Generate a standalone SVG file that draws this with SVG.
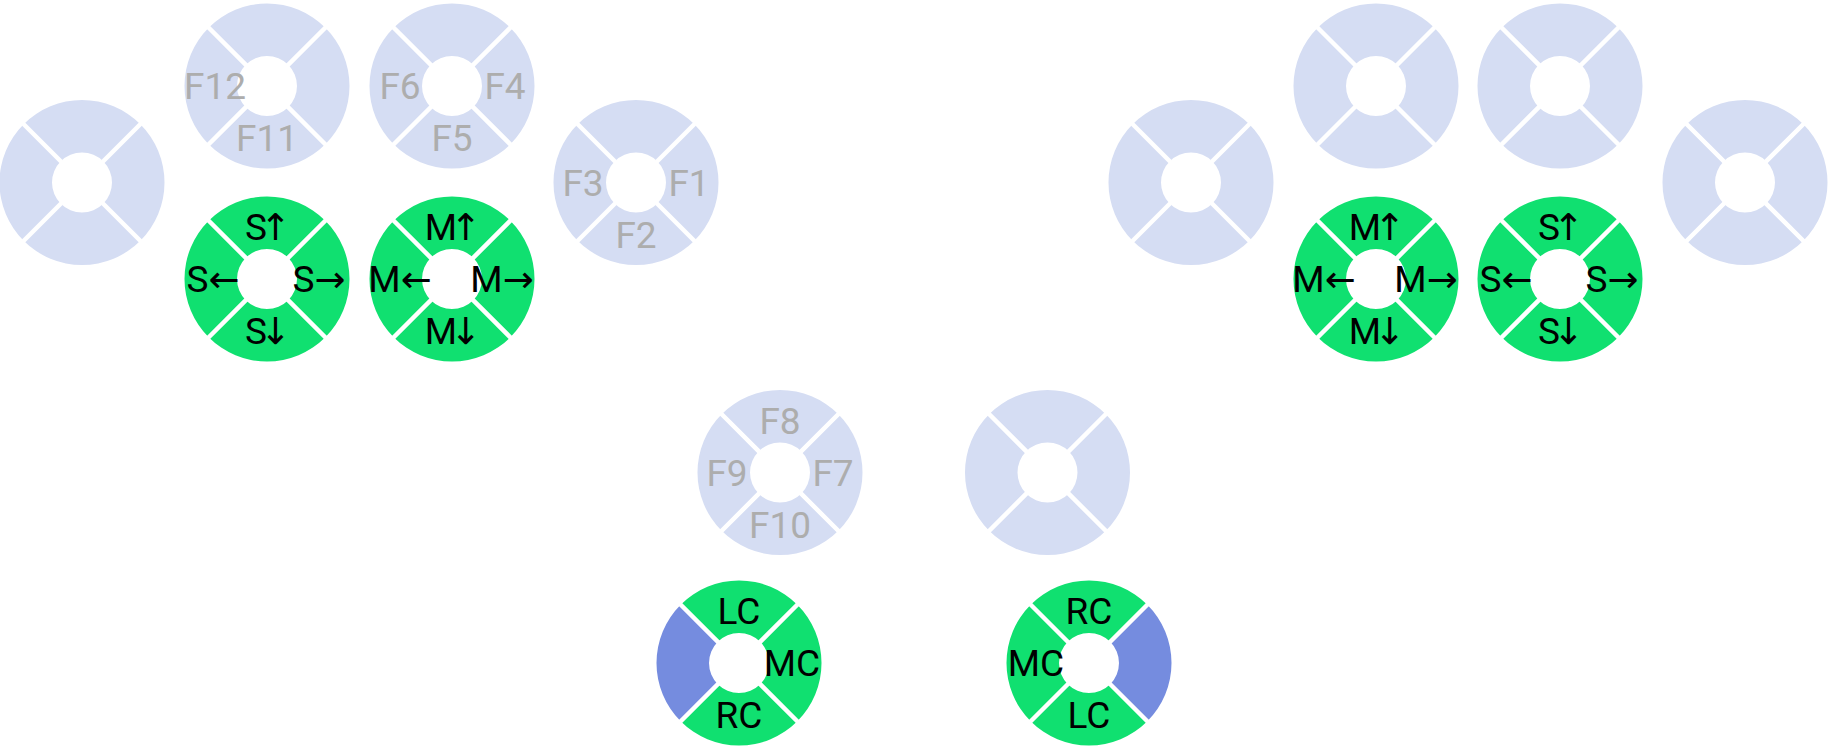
<svg xmlns="http://www.w3.org/2000/svg" xmlns:xlink="http://www.w3.org/1999/xlink" width="1828" height="750" viewBox="0 0 1828 750">
<style>
.lb{fill:#d5ddf3}
.gr{fill:#10e070}
.bl{fill:#758cdf}
.gap{stroke:#ffffff;stroke-width:4.5;fill:none}
text{font-family:Roboto,"Liberation Sans",sans-serif;font-size:37px;text-anchor:middle}
.a{font-family:"DejaVu Sans",sans-serif}
.f{fill:#adadad}
.k{fill:#000000}
</style>
<defs>
<path id="sec" d="M -58.34 -58.34 A 82.5 82.5 0 0 1 58.34 -58.34 L 21.21 -21.21 A 30 30 0 0 0 -21.21 -21.21 Z"/>
<path id="gaps" d="M -60 -60 L 60 60 M 60 -60 L -60 60"/>
<g id="ringLB">
<use xlink:href="#sec" class="lb"/>
<use xlink:href="#sec" class="lb" transform="rotate(90)"/>
<use xlink:href="#sec" class="lb" transform="rotate(180)"/>
<use xlink:href="#sec" class="lb" transform="rotate(270)"/>
<use xlink:href="#gaps" class="gap"/>
</g>
<g id="ringGR">
<use xlink:href="#sec" class="gr"/>
<use xlink:href="#sec" class="gr" transform="rotate(90)"/>
<use xlink:href="#sec" class="gr" transform="rotate(180)"/>
<use xlink:href="#sec" class="gr" transform="rotate(270)"/>
<use xlink:href="#gaps" class="gap"/>
</g>
</defs>
<g id="connectors"/>

<g id="n-left-blank" transform="translate(82,182.5)"><use xlink:href="#ringLB"/></g>
<g id="n-f12" transform="translate(267,86)"><use xlink:href="#ringLB"/>
<text class="f" x="-52" y="13">F12</text><text class="f" x="0" y="65">F11</text></g>
<g id="n-f6" transform="translate(452,86)"><use xlink:href="#ringLB"/>
<text class="f" x="-52" y="13">F6</text><text class="f" x="53" y="13">F4</text><text class="f" x="0" y="65">F5</text></g>
<g id="n-f3" transform="translate(636,182.5)"><use xlink:href="#ringLB"/>
<text class="f" x="-53" y="13">F3</text><text class="f" x="53" y="13">F1</text><text class="f" x="0" y="65">F2</text></g>
<g id="n-s-left" transform="translate(267,279)"><use xlink:href="#ringGR"/>
<text class="k" x="1" y="-39">S<tspan class="a" dx="-7">↑</tspan></text><text class="k" x="-54" y="13">S<tspan class="a">←</tspan></text><text class="k" x="52" y="13">S<tspan class="a">→</tspan></text><text class="k" x="1" y="65">S<tspan class="a" dx="-7">↓</tspan></text></g>
<g id="n-m-left" transform="translate(452,279)"><use xlink:href="#ringGR"/>
<text class="k" x="1" y="-39">M<tspan class="a" dx="-7">↑</tspan></text><text class="k" x="-52" y="13">M<tspan class="a">←</tspan></text><text class="k" x="50" y="13">M<tspan class="a">→</tspan></text><text class="k" x="1" y="65">M<tspan class="a" dx="-7">↓</tspan></text></g>

<g id="n-f8" transform="translate(780,472.5)"><use xlink:href="#ringLB"/>
<text class="f" x="0" y="-39">F8</text><text class="f" x="-53" y="13">F9</text><text class="f" x="53" y="13">F7</text><text class="f" x="0" y="65">F10</text></g>
<g id="n-bottom-blank" transform="translate(1047.5,472.5)"><use xlink:href="#ringLB"/></g>
<g id="n-lc" transform="translate(739,663)">
<use xlink:href="#sec" class="gr"/>
<use xlink:href="#sec" class="gr" transform="rotate(90)"/>
<use xlink:href="#sec" class="gr" transform="rotate(180)"/>
<use xlink:href="#sec" class="bl" transform="rotate(270)"/>
<use xlink:href="#gaps" class="gap"/>
<text class="k" x="0" y="-39">LC</text><text class="k" x="53" y="13">MC</text><text class="k" x="0" y="65">RC</text></g>
<g id="n-rc" transform="translate(1089,663)">
<use xlink:href="#sec" class="gr"/>
<use xlink:href="#sec" class="bl" transform="rotate(90)"/>
<use xlink:href="#sec" class="gr" transform="rotate(180)"/>
<use xlink:href="#sec" class="gr" transform="rotate(270)"/>
<use xlink:href="#gaps" class="gap"/>
<text class="k" x="0" y="-39">RC</text><text class="k" x="-53" y="13">MC</text><text class="k" x="0" y="65">LC</text></g>

<g id="n-right-blank1" transform="translate(1191,182.5)"><use xlink:href="#ringLB"/></g>
<g id="n-right-blank2" transform="translate(1376,86)"><use xlink:href="#ringLB"/></g>
<g id="n-right-blank3" transform="translate(1560,86)"><use xlink:href="#ringLB"/></g>
<g id="n-right-blank4" transform="translate(1745,182.5)"><use xlink:href="#ringLB"/></g>
<g id="n-m-right" transform="translate(1376,279)"><use xlink:href="#ringGR"/>
<text class="k" x="1" y="-39">M<tspan class="a" dx="-7">↑</tspan></text><text class="k" x="-52" y="13">M<tspan class="a">←</tspan></text><text class="k" x="50" y="13">M<tspan class="a">→</tspan></text><text class="k" x="1" y="65">M<tspan class="a" dx="-7">↓</tspan></text></g>
<g id="n-s-right" transform="translate(1560,279)"><use xlink:href="#ringGR"/>
<text class="k" x="1" y="-39">S<tspan class="a" dx="-7">↑</tspan></text><text class="k" x="-54" y="13">S<tspan class="a">←</tspan></text><text class="k" x="52" y="13">S<tspan class="a">→</tspan></text><text class="k" x="1" y="65">S<tspan class="a" dx="-7">↓</tspan></text></g>
</svg>
